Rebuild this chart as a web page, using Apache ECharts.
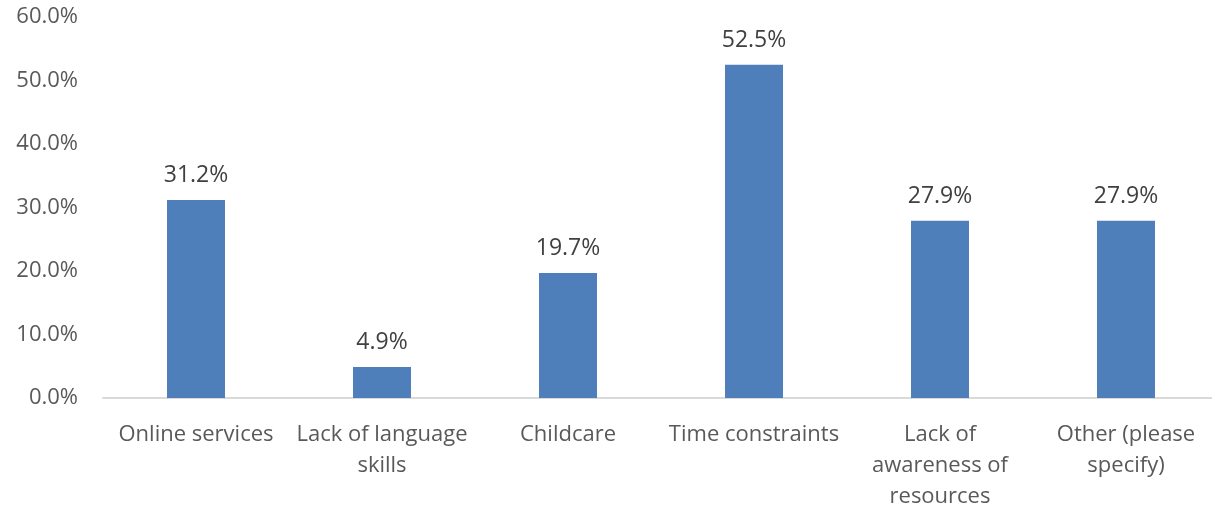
<!DOCTYPE html>
<html><head><meta charset="utf-8">
<script src="https://cdn.jsdelivr.net/npm/echarts@6/dist/echarts.min.js"></script>
<style>html,body{margin:0;padding:0;background:#fff}#c{width:1212px;height:512px}</style>
</head><body><div id="c"></div>
<script>
const categories = ["Online services", "Lack of language\nskills", "Childcare", "Time constraints", "Lack of\nawareness of\nresources", "Other (please\nspecify)"];
const values = [31.2, 4.9, 19.7, 52.5, 27.9, 27.9];
const yTicks = [0, 10, 20, 30, 40, 50, 60];

const chart = echarts.init(document.getElementById('c'));
chart.setOption({
  animation: false,
  grid: { left: 103, top: 17, width: 1116, bottom: 114, containLabel: false, outerBoundsMode: 'none' },
  xAxis: {
    type: 'category', data: categories,
    axisLine: { lineStyle: { color: '#d9d9d9', width: 2 } },
    axisTick: { show: false },
    axisLabel: { color: '#595959', fontFamily: 'Open Sans', fontSize: 22, lineHeight: 31, margin: 21, interval: 0 }
  },
  yAxis: {
    type: 'value', min: yTicks[0], max: yTicks[yTicks.length - 1], interval: 10,
    splitLine: { show: false }, axisLine: { show: false }, axisTick: { show: false },
    axisLabel: { color: '#595959', fontFamily: 'Open Sans', fontSize: 22, margin: 25, formatter: v => v.toFixed(1) + '%' }
  },
  series: [{
    type: 'bar', data: values, barWidth: 58,
    itemStyle: { color: '#4f7fbb' },
    label: { show: true, position: 'top', distance: 13, color: '#404040', fontFamily: 'Open Sans', fontSize: 23, formatter: p => p.value.toFixed(1) + '%' }
  }]
});
</script></body></html>
